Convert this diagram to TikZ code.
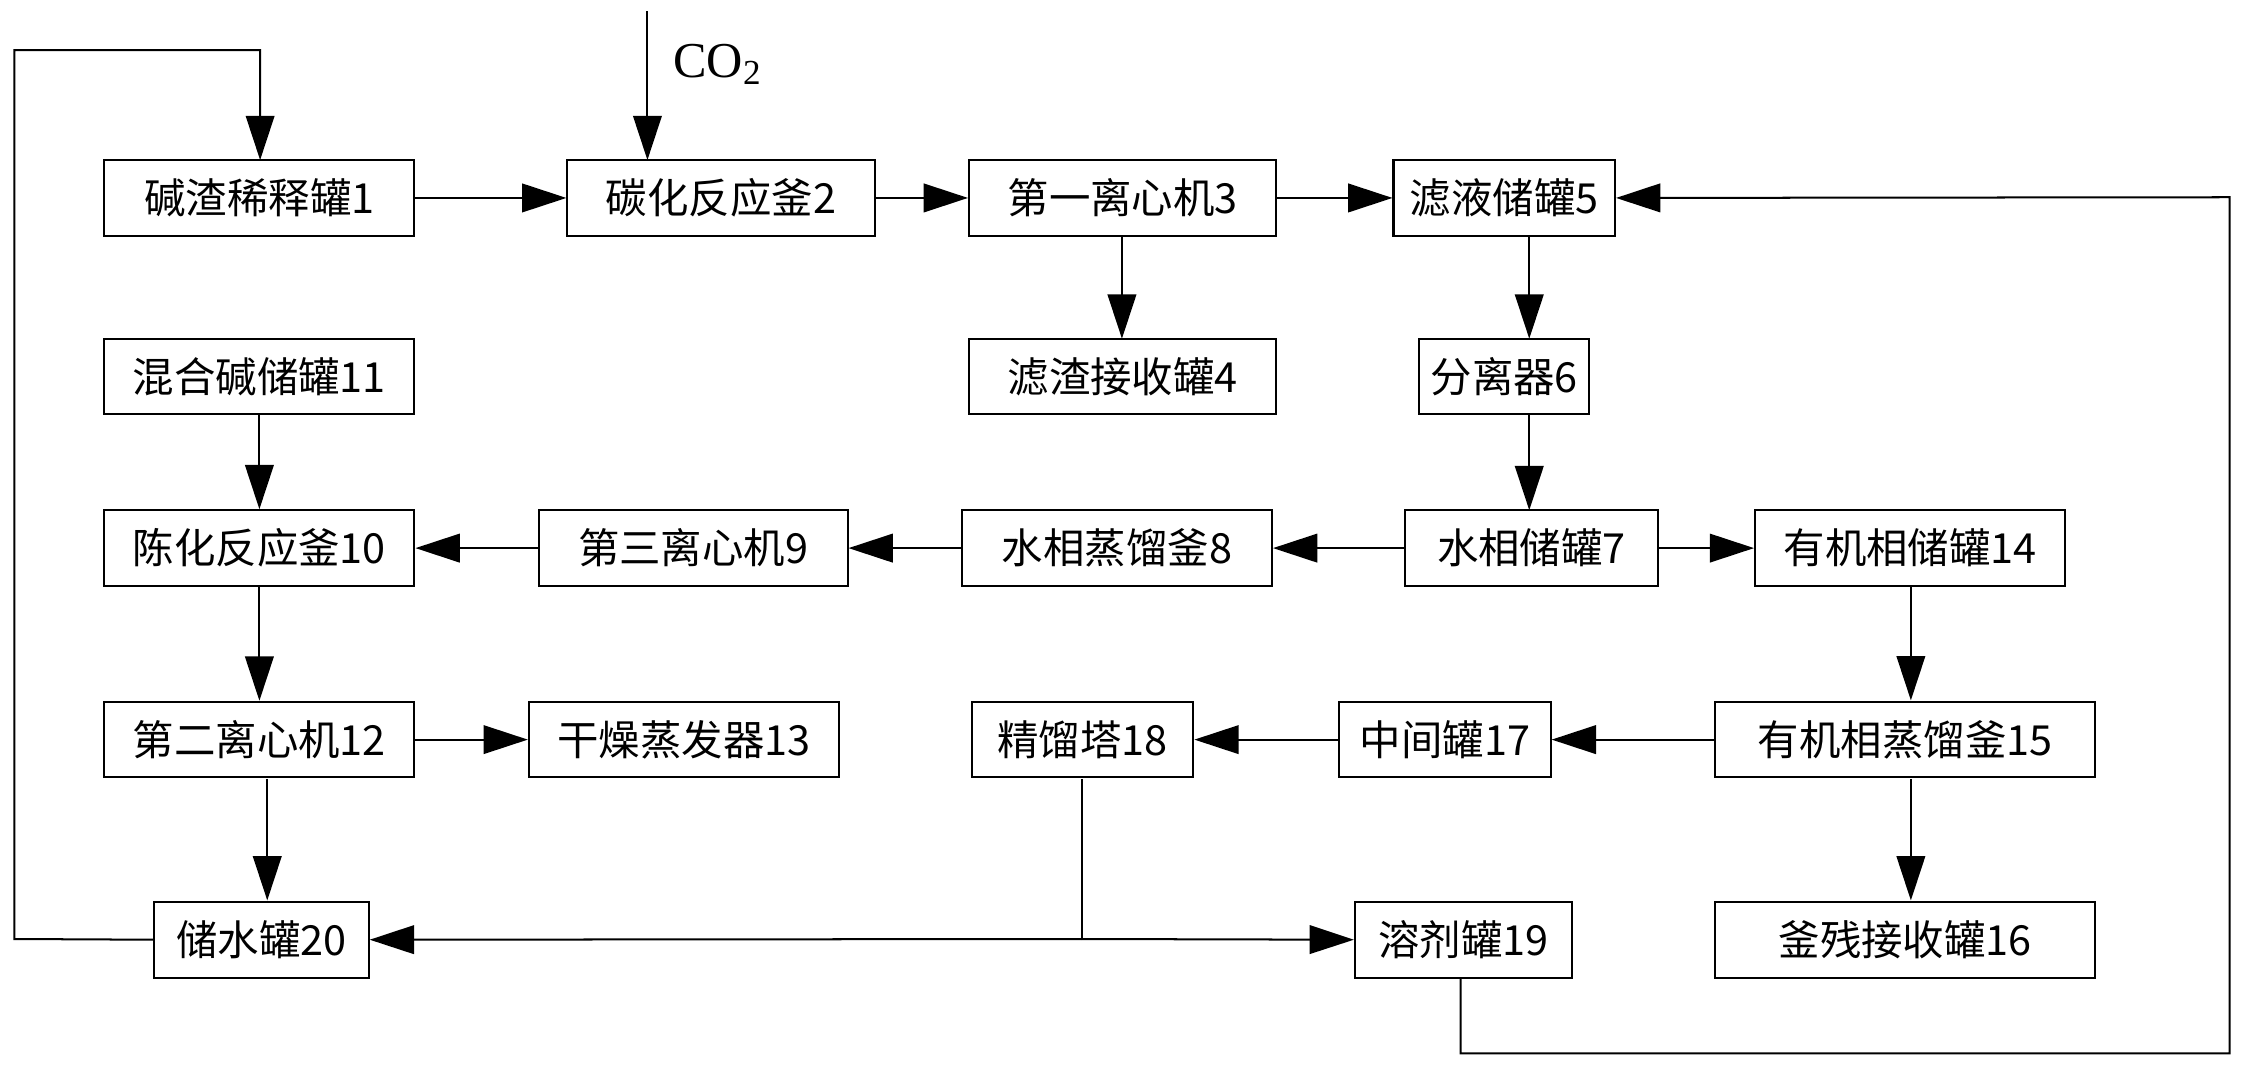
\documentclass[tikz,border=0pt]{standalone}
\usepackage{fontspec}
\setmainfont{Liberation Serif}
\newfontfamily\cjk{Noto Sans CJK SC}
\usetikzlibrary{arrows.meta}
\begin{document}
\begin{tikzpicture}[x=0.02cm,y=-0.02cm,
  bx/.style={draw,line width=0.8pt,minimum height=1.06cm,inner sep=2pt,font=\cjk\fontsize{16.5}{18}\selectfont},
  ar/.style={draw,line width=0.8pt,-{Triangle[length=0.62cm,width=0.4cm]}},
  ln/.style={draw,line width=0.8pt}]
\useasboundingbox (0,0) rectangle (1568,747);
\newcommand{\bxat}[6]{\node[bx,minimum width={(#4-#2)*0.02cm}] (#1) at ({(#2+#4)/2},{(#3+#5)/2}) {#6};}
\bxat{n1}{73}{112}{290}{165}{碱渣稀释罐1}
\bxat{n2}{397}{112}{612}{165}{碳化反应釜2}
\bxat{n3}{678}{112}{893}{165}{第一离心机3}
\bxat{n5}{975}{112}{1130}{165}{滤液储罐5}
\bxat{n4}{678}{237}{893}{290}{滤渣接收罐4}
\bxat{n6}{993}{237}{1112}{290}{分离器6}
\bxat{n11}{73}{237}{290}{290}{混合碱储罐11}
\bxat{n10}{73}{357}{290}{410}{陈化反应釜10}
\bxat{n9}{377}{357}{593}{410}{第三离心机9}
\bxat{n8}{673}{357}{890}{410}{水相蒸馏釜8}
\bxat{n7}{983}{357}{1160}{410}{水相储罐7}
\bxat{n14}{1228}{357}{1445}{410}{有机相储罐14}
\bxat{n12}{73}{490}{290}{545}{第二离心机12}
\bxat{n13}{370}{490}{587}{545}{干燥蒸发器13}
\bxat{n18}{680}{490}{835}{545}{精馏塔18}
\bxat{n17}{937}{490}{1085}{545}{中间罐17}
\bxat{n15}{1200}{490}{1466}{545}{有机相蒸馏釜15}
\bxat{n20}{108}{630}{258}{685}{储水罐20}
\bxat{n19}{948}{630}{1100}{685}{溶剂罐19}
\bxat{n16}{1200}{630}{1466}{685}{釜残接收罐16}
\path[ar] (n1) -- (n2);
\path[ar] (n2) -- (n3);
\path[ar] (n3) -- (n5);
\path[ar] (785,165) -- (785,237);
\path[ar] (1070,165) -- (1070,237);
\path[ar] (1070,290) -- (1070,357);
\path[ar] (n7) -- (n8);
\path[ar] (n8) -- (n9);
\path[ar] (n9) -- (n10);
\path[ar] (n7) -- (n14);
\path[ar] (n11) -- (n10);
\path[ar] (n10) -- (n12);
\path[ar] (n12) -- (n13);
\path[ar] (187,545) -- (187,630);
\path[ar] (1337,410) -- (1337,490);
\path[ar] (n15) -- (n17);
\path[ar] (n17) -- (n18);
\path[ar] (1337,545) -- (1337,630);
\coordinate (j) at (757,657);
\path[ln] (757,545) -- (j);
\path[ar] (j) -- (n20.east);
\path[ar] (j) -- (n19.west);
\path[ar] (n20.west) -- (10,657) -- (10,35) -- (182,35) -- (182,112);
\path[ar] (1022,685) -- (1022,737) -- (1560,737) -- (1560,138) -- (n5.east);
\coordinate (co) at (453,8);
\path[ar] (co) -- (453,112);
\node[font=\fontsize{20}{22}\selectfont,anchor=west] (colbl) at (465,45) {CO\textsubscript{2}};
\end{tikzpicture}
\end{document}
